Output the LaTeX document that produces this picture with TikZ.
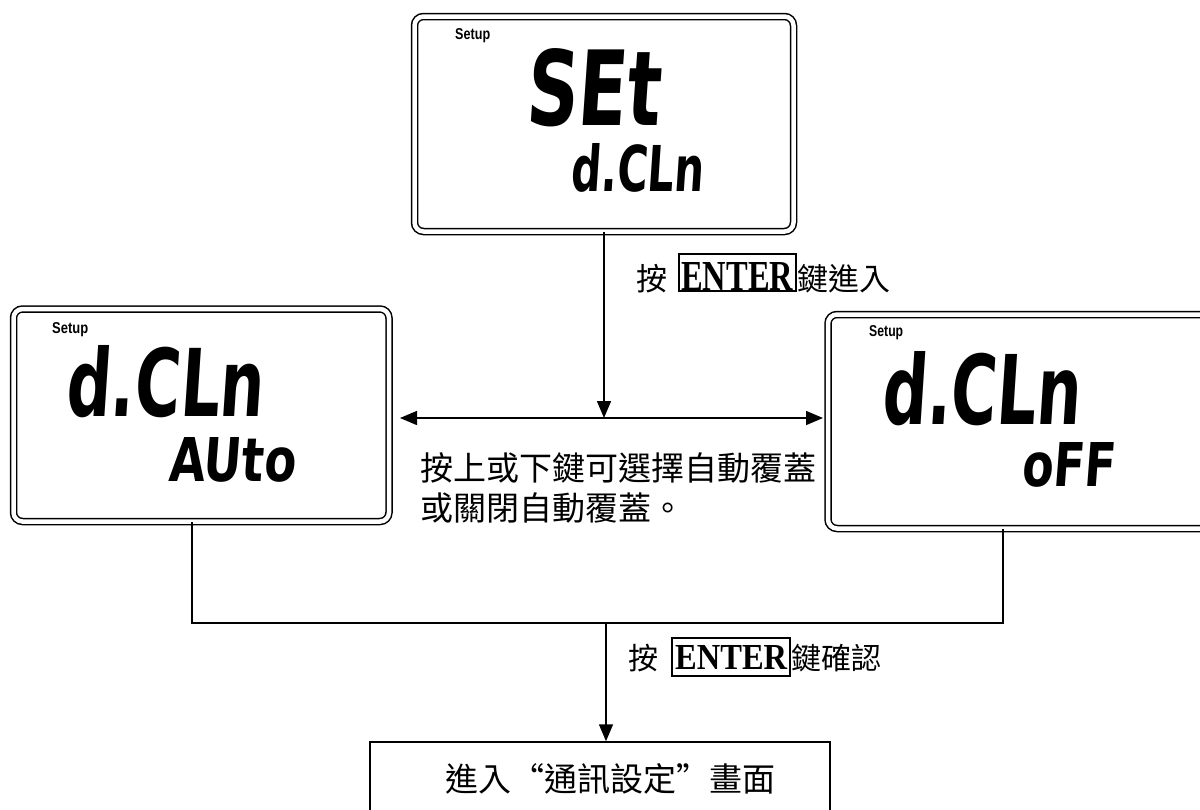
\documentclass[tikz,border=0pt]{standalone}
\usepackage{fontspec}
\usetikzlibrary{arrows.meta}
\newfontfamily\cjk{Noto Sans CJK TC}
\newfontfamily\lcdfont[FakeSlant=0.1]{DejaVu Sans}
\newfontfamily\setupfont{Liberation Sans}
\newfontfamily\enterfont{Liberation Serif}
\newcommand{\lcdtxt}[3]{\resizebox{#1pt}{#2pt}{\lcdfont\bfseries #3}}
\newcommand{\setuptxt}[1]{\resizebox{#1pt}{11pt}{\setupfont\bfseries Setup}}
\begin{document}
\begin{tikzpicture}[x=1pt,y=-1pt,
  lcdbox/.style={draw, double, double distance=4.5pt, line width=1.5pt, rounded corners=9pt, inner sep=0pt},
  lcd/.style={inner sep=0pt, anchor=south west},
  conn/.style={line width=1.5pt},
  arr/.style={conn, -{Triangle[length=17pt,width=14pt]}},
  arrtwo/.style={conn, {Triangle[length=17pt,width=14pt]}-{Triangle[length=17pt,width=14pt]}},
  lbl/.style={inner sep=0pt, anchor=base west}]
\useasboundingbox (0,0) rectangle (1200,809);
\clip (0,0) rectangle (1200,809);

% LCD boxes
\node[lcdbox, minimum width=379pt, minimum height=215pt] (tbox) at (604,124) {};
\node[lcdbox, minimum width=375.5pt, minimum height=212.5pt] (lbox) at (201.25,415.25) {};
\node[lcdbox, minimum width=382pt, minimum height=214pt] (rbox) at (1019,421.5) {};

% top box content
\node[inner sep=0pt, anchor=base west] (tsetup) at (455,39) {\setuptxt{35}};
\node[lcd] (tset) at (525,127) {\lcdtxt{135}{77}{SEt}};
\node[lcd] (tdcln) at (570,193) {\lcdtxt{133}{48}{d.CLn}};

% left box content
\node[inner sep=0pt, anchor=base west] (lsetup) at (52,333) {\setuptxt{36}};
\node[lcd] (ldcln) at (65,418) {\lcdtxt{198}{71}{d.CLn}};
\node[lcd] (lauto) at (168,483) {\lcdtxt{127}{44}{AUto}};

% right box content
\node[inner sep=0pt, anchor=base west] (rsetup) at (869,336) {\setuptxt{34}};
\node[lcd] (rdcln) at (881,426) {\lcdtxt{199}{73}{d.CLn}};
\node[lcd] (roff) at (1021,488) {\lcdtxt{94}{44}{oFF}};

% bottom box (runs past the lower edge)
\node[draw, line width=1.5pt, minimum width=460pt, minimum height=80pt, inner sep=0pt,
      font=\cjk\fontsize{33}{33}\selectfont] (bbox) at (600,782) {\hspace*{20pt}\raisebox{8pt}{進入“通訊設定”畫面}};

% coordinates
\coordinate (hm) at (604,418);
\coordinate (hl) at (400,418);
\coordinate (hr) at (823,418);
\coordinate (jl) at (192,623);
\coordinate (jr) at (1003,623);
\coordinate (jm) at (606,623);

% connectors
\draw[arr] (tbox.south) -- (hm);
\draw[arrtwo] (hl) -- (hr);
\draw[conn] (lbox.south -| jl) -- (jl) -- (jr) -- (rbox.south -| jr);
\draw[arr] (jm) -- (bbox.north -| jm);

% labels
\node[lbl] (lab1) at (636,290) {\setlength{\fboxsep}{0pt}\setlength{\fboxrule}{2pt}%
  \cjk\fontsize{31}{31}\selectfont 按\hspace{11pt}\fbox{\hspace{1pt}\rule{0pt}{35pt}\resizebox{112pt}{28pt}{\enterfont\bfseries ENTER}\hspace{2pt}}鍵進入};
\node[lbl] (lab2) at (628,669) {\setlength{\fboxsep}{0pt}\setlength{\fboxrule}{2pt}%
  \cjk\fontsize{30}{30}\selectfont 按\hspace{13pt}\fbox{\hspace{2pt}\rule[-6pt]{0pt}{36pt}\resizebox{112pt}{24pt}{\enterfont\bfseries ENTER}\hspace{2pt}}鍵確認};

\node[lbl, font=\cjk\fontsize{33}{33}\selectfont] (mid1) at (420,480) {按上或下鍵可選擇自動覆蓋};
\node[lbl, font=\cjk\fontsize{33}{33}\selectfont] (mid2) at (420,520) {或關閉自動覆蓋。};
\end{tikzpicture}
\end{document}
